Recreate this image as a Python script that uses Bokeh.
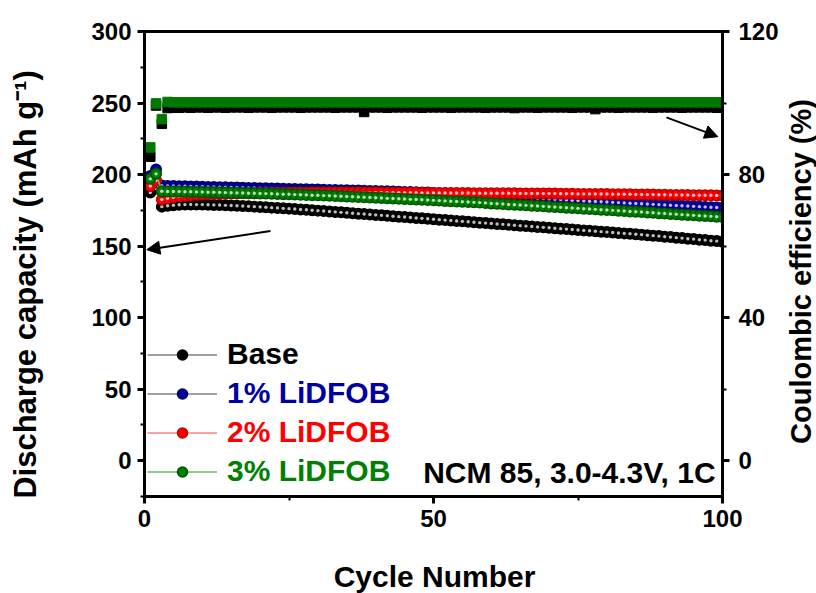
import math
from bokeh.plotting import figure
from bokeh.layouts import row, column
from bokeh.models import (Range1d, LinearAxis, SingleIntervalTicker, Legend, LegendItem,
                          Arrow, NormalHead, Label, ColumnDataSource)
from bokeh.embed import file_html
from bokeh.resources import INLINE

cycles = list(range(1, 101))

cap_base = [187.5, 190.2, 177.6, 178.2, 178.6, 178.9, 179.0, 179.1, 179.0, 179.0,
            178.9, 178.8, 178.7, 178.5, 178.4, 178.2, 178.0, 177.8, 177.6, 177.4,
            177.2, 176.9, 176.7, 176.4, 176.2, 175.9, 175.6, 175.4, 175.1, 174.8,
            174.5, 174.2, 173.9, 173.6, 173.3, 173.0, 172.7, 172.4, 172.1, 171.8,
            171.5, 171.2, 170.9, 170.6, 170.3, 170.0, 169.7, 169.4, 169.1, 168.8,
            168.5, 168.2, 167.9, 167.6, 167.3, 167.0, 166.7, 166.4, 166.1, 165.8,
            165.5, 165.2, 164.9, 164.6, 164.3, 164.0, 163.7, 163.4, 163.1, 162.8,
            162.5, 162.2, 161.9, 161.6, 161.3, 161.0, 160.7, 160.4, 160.1, 159.8,
            159.5, 159.2, 158.9, 158.6, 158.3, 158.0, 157.6, 157.3, 157.0, 156.6,
            156.3, 155.9, 155.6, 155.2, 154.9, 154.5, 154.2, 153.8, 153.5, 153.1]

cap_1 = [199.0, 203.5, 192.3, 192.1, 192.0, 191.9, 191.8, 191.7, 191.6, 191.5,
         191.4, 191.3, 191.2, 191.1, 191.0, 190.9, 190.8, 190.7, 190.6, 190.5,
         190.4, 190.3, 190.2, 190.1, 190.0, 189.9, 189.8, 189.7, 189.6, 189.5,
         189.4, 189.3, 189.2, 189.1, 189.0, 188.9, 188.8, 188.7, 188.6, 188.5,
         188.4, 188.3, 188.1, 188.0, 187.9, 187.8, 187.6, 187.5, 187.4, 187.2,
         187.0, 186.9, 186.7, 186.5, 186.4, 186.2, 186.0, 185.9, 185.7, 185.5,
         185.3, 185.0, 184.8, 184.5, 184.3, 184.0, 183.8, 183.5, 183.3, 183.0,
         182.8, 182.5, 182.3, 182.0, 181.8, 181.6, 181.4, 181.2, 181.0, 180.8,
         180.6, 180.4, 180.2, 180.0, 179.8, 179.6, 179.4, 179.2, 179.0, 178.8,
         178.6, 178.4, 178.2, 178.0, 177.8, 177.6, 177.4, 177.2, 177.0, 176.8]

cap_2 = [192.0, 196.0, 182.5, 183.5, 184.2, 184.8, 185.2, 185.6, 185.9, 186.1,
         186.3, 186.4, 186.5, 186.6, 186.7, 186.8, 186.9, 187.0, 187.0, 187.1,
         187.1, 187.2, 187.2, 187.2, 187.3, 187.3, 187.3, 187.3, 187.4, 187.4,
         187.4, 187.4, 187.4, 187.4, 187.4, 187.4, 187.4, 187.4, 187.4, 187.4,
         187.3, 187.3, 187.3, 187.3, 187.3, 187.3, 187.3, 187.2, 187.2, 187.2,
         187.2, 187.2, 187.1, 187.1, 187.1, 187.1, 187.0, 187.0, 187.0, 187.0,
         186.9, 186.9, 186.9, 186.9, 186.8, 186.8, 186.8, 186.8, 186.7, 186.7,
         186.7, 186.6, 186.6, 186.6, 186.5, 186.5, 186.5, 186.4, 186.4, 186.4,
         186.3, 186.3, 186.2, 186.2, 186.1, 186.1, 186.0, 186.0, 185.9, 185.9,
         185.8, 185.8, 185.7, 185.7, 185.6, 185.6, 185.5, 185.5, 185.4, 185.3]

cap_3 = [197.0, 200.5, 188.3, 188.2, 188.2, 188.1, 188.0, 188.0, 187.9, 187.8,
         187.7, 187.6, 187.5, 187.4, 187.3, 187.2, 187.1, 187.0, 186.9, 186.8,
         186.7, 186.6, 186.4, 186.3, 186.2, 186.0, 185.9, 185.8, 185.6, 185.5,
         185.3, 185.2, 185.0, 184.8, 184.7, 184.5, 184.3, 184.2, 184.0, 183.8,
         183.6, 183.4, 183.3, 183.1, 182.9, 182.7, 182.6, 182.4, 182.2, 182.0,
         181.8, 181.6, 181.4, 181.2, 181.0, 180.8, 180.6, 180.4, 180.2, 179.8,
         179.6, 179.4, 179.1, 178.9, 178.7, 178.5, 178.2, 178.0, 177.8, 177.5,
         177.3, 177.1, 176.8, 176.6, 176.4, 176.1, 175.9, 175.7, 175.4, 175.2,
         175.0, 174.7, 174.5, 174.2, 174.0, 173.8, 173.5, 173.3, 173.0, 172.8,
         172.5, 172.3, 172.0, 171.8, 171.5, 171.3, 171.0, 170.8, 170.5, 170.3]

ce_base = [85.0, 99.3, 94.2, 98.6, 98.7, 98.7, 98.8, 98.7, 98.8, 98.8,
           98.7, 98.8, 98.8, 98.7, 98.8, 98.8, 98.8, 98.7, 98.8, 98.8,
           98.8, 98.7, 98.8, 98.8, 98.8, 98.8, 98.7, 98.8, 98.8, 98.8,
           98.8, 98.8, 98.7, 98.8, 98.8, 98.8, 98.8, 97.5, 98.8, 98.8,
           98.8, 98.7, 98.8, 98.8, 98.8, 98.8, 98.8, 98.7, 98.8, 98.8,
           98.8, 98.8, 98.7, 98.8, 98.8, 98.8, 98.8, 98.8, 98.7, 98.8,
           98.8, 98.8, 98.8, 98.6, 98.8, 98.8, 98.8, 98.7, 98.8, 98.8,
           98.8, 98.8, 98.8, 98.7, 98.8, 98.8, 98.8, 98.3, 98.8, 98.8,
           98.8, 98.7, 98.8, 98.8, 98.8, 98.8, 98.8, 98.7, 98.8, 98.8,
           98.8, 98.8, 98.7, 98.8, 98.8, 98.8, 98.8, 98.8, 98.7, 98.8]

ce_3 = [87.6, 99.9, 95.5, 100.3, 100.2, 100.2, 100.2, 100.2, 100.2, 100.2,
        100.2, 100.2, 100.2, 100.2, 100.2, 100.2, 100.2, 100.2, 100.2, 100.2,
        100.2, 100.2, 100.2, 100.2, 100.2, 100.2, 100.2, 100.2, 100.2, 100.2,
        100.2, 100.2, 100.2, 100.2, 100.2, 100.2, 100.2, 100.2, 100.2, 100.2,
        100.2, 100.2, 100.2, 100.2, 100.2, 100.2, 100.2, 100.2, 100.2, 100.2,
        100.2, 100.2, 100.2, 100.2, 100.2, 100.2, 100.2, 100.2, 100.2, 100.2,
        100.2, 100.2, 100.2, 100.2, 100.2, 100.2, 100.2, 100.2, 100.2, 100.2,
        100.2, 100.2, 100.2, 100.2, 100.2, 100.2, 100.2, 100.2, 100.2, 100.2,
        100.2, 100.2, 100.2, 100.2, 100.2, 100.2, 100.2, 100.2, 100.2, 100.2,
        100.2, 100.2, 100.2, 100.2, 100.2, 100.2, 100.2, 100.2, 100.2, 100.2]

series_labels = ["Base", "1% LiDFOB", "2% LiDFOB", "3% LiDFOB"]
series_colors = ["#000000", "#0000a0", "#ff0000", "#008000"]
series_edge = ["#000000", "#00006a", "#c00000", "#005500"]
legend_line_colors = ["#808080", "#808080", "#ff8080", "#66bb66"]

# annotation positions (data units, left axis)
arrow_left = (21.8, 160.5, 0.4, 147.5)
arrow_right = (90.3, 240.0, 99.2, 226.5)
note_text = "NCM 85, 3.0-4.3V, 1C"
x_title = "Cycle Number"
y_title = "Discharge capacity (mAh g\u207b\u00b9)"
y2_title = "Coulombic efficiency (%)"

FONT = "Liberation Sans"

LW, RW, BH = 45, 32, 34
MAIN_W, MAIN_H = 816 - LW - RW, 593 - BH

p = figure(width=MAIN_W, height=MAIN_H, output_backend="svg", toolbar_location=None,
           x_range=Range1d(0, 100), y_range=Range1d(-25, 300),
           min_border_left=144 - LW, min_border_right=MAIN_W - (722 - LW),
           min_border_top=31, min_border_bottom=MAIN_H - 496)
p.extra_y_ranges = {"ce": Range1d(-10, 120)}
p.grid.visible = False
p.outline_line_color = "black"
p.outline_line_width = 3
p.background_fill_color = "white"
p.border_fill_color = "white"

# CE squares
for vals, col in [(ce_base, "#000000"), (ce_3, "#007800")]:
    p.scatter(cycles, vals, marker="square", size=9.5, fill_color=col, line_color=col,
              y_range_name="ce")

# capacity circles
cap_sets = [cap_base, cap_1, cap_2, cap_3]
legends = []
for i, vals in enumerate(cap_sets):
    src = ColumnDataSource(dict(x=cycles, y=vals))
    lr = p.line("x", "y", source=src, line_color=legend_line_colors[i], line_width=1.5)
    cr = p.scatter("x", "y", source=src, marker="circle", size=10.5,
                   fill_color=series_colors[i], line_color=series_edge[i], line_width=1.5)
    p.scatter("x", "y", source=src, marker="circle", size=3.4,
              fill_color="white", line_color=None, fill_alpha=0.75)
    legends.append((lr, cr))

xa = p.xaxis[0]
xa.ticker = SingleIntervalTicker(interval=50, num_minor_ticks=2)
ya = p.yaxis[0]
ya.ticker = SingleIntervalTicker(interval=50, num_minor_ticks=2)
ra = LinearAxis(y_range_name="ce", ticker=SingleIntervalTicker(interval=40, num_minor_ticks=2))
p.add_layout(ra, "right")

for ax in [xa, ya, ra]:
    ax.axis_line_width = 3
    ax.axis_line_color = "black"
    ax.major_tick_line_width = 3
    ax.minor_tick_line_width = 2
    ax.major_tick_out = 7
    ax.major_tick_in = 0
    ax.minor_tick_out = 4
    ax.minor_tick_in = 0
    ax.major_label_text_font = FONT
    ax.major_label_text_font_style = "bold"
    ax.major_label_text_font_size = "24px"
    ax.major_label_text_color = "black"
    ax.major_label_standoff = 6
ra.major_label_standoff = 9

# arrows
for (x0, y0, x1, y1) in [arrow_left, arrow_right]:
    p.add_layout(Arrow(x_start=x0, y_start=y0, x_end=x1, y_end=y1, line_width=2, line_color="black",
                       end=NormalHead(size=13, fill_color="black", line_color="black")))

# note
p.add_layout(Label(x=98.8, y=-8.5, text=note_text, text_align="right", text_baseline="middle",
                   text_font=FONT, text_font_style="bold", text_font_size="30px", text_color="black"))

# legends (one per entry for colored labels)
leg_y = [125, 86, 47, 8]
for i, (lr, cr) in enumerate(legends):
    lg = Legend(items=[LegendItem(label=series_labels[i], renderers=[lr, cr])],
                location=(3, leg_y[i]), orientation="vertical",
                glyph_width=70, glyph_height=25, label_standoff=10, padding=0, margin=0,
                spacing=0, background_fill_alpha=0, border_line_alpha=0,
                label_text_font=FONT, label_text_font_style="bold", label_text_font_size="30px",
                label_text_color=series_colors[i], label_height=30)
    p.add_layout(lg, "center")


def title_panel(w, h, text, sx, sy, angle, size):
    f = figure(width=w, height=h, output_backend="svg", toolbar_location=None,
               x_axis_location=None, y_axis_location=None, min_border=0,
               x_range=Range1d(0, 1), y_range=Range1d(0, 1))
    f.grid.visible = False
    f.outline_line_color = None
    f.add_layout(Label(x=sx, y=sy, x_units="screen", y_units="screen", text=text, angle=angle,
                       text_align="center", text_baseline="middle", text_font=FONT,
                       text_font_style="bold", text_font_size=size, text_color="black"))
    return f


left_t = title_panel(LW, MAIN_H, y_title, 25, MAIN_H - 281 - 66, math.pi / 2, "31px")
right_t = title_panel(RW, MAIN_H, y2_title, 800 - (816 - RW), MAIN_H - 270 - 64, math.pi / 2, "29px")
bottom_t = title_panel(816, BH, x_title, 434, BH - (576 - MAIN_H), 0, "30px")

layout = column(row(left_t, p, right_t, spacing=0), bottom_t, spacing=0)

open("out.html", "w").write(file_html(layout, INLINE))
